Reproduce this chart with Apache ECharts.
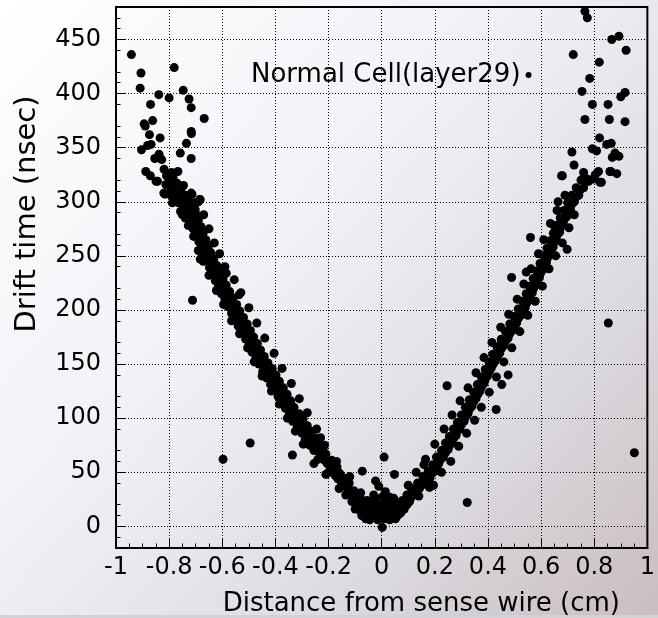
<!DOCTYPE html>
<html>
<head>
<meta charset="utf-8">
<script src="https://cdn.jsdelivr.net/npm/echarts@6/dist/echarts.min.js"></script>
<style>
html, body { margin: 0; padding: 0; }
#chart { width: 658px; height: 618px; }
</style>
</head>
<body>
<div id="chart"></div>
<script>
// x: distance from sense wire (cm), y: drift time (nsec)
var seriesName = 'Normal Cell(layer29)';
var xTitle = 'Distance from sense wire (cm)';
var yTitle = 'Drift time (nsec)';
var yTicks = [0, 50, 100, 150, 200, 250, 300, 350, 400, 450];

// dense band, negative side
var leftBranch = [
  [-0.06,9],[-0.045,6],[-0.07,13],[-0.052,16],[-0.083,15],[-0.075,20],[-0.095,18],[-0.088,24],[-0.1,27],[-0.112,23],
  [-0.118,30],[-0.105,33],[-0.128,34],[-0.135,29],[-0.14,38],[-0.122,40],[-0.152,41],[-0.145,45],[-0.165,44],[-0.158,49],
  [-0.175,47],[-0.182,52],[-0.168,55],[-0.192,55],[-0.2,50],[-0.205,58],[-0.188,61],[-0.215,61],[-0.225,64],[-0.21,67],
  [-0.232,68],[-0.24,62],[-0.222,72],[-0.245,73],[-0.255,70],[-0.238,77],[-0.26,78],[-0.27,75],[-0.252,82],[-0.275,84],
  [-0.288,80],[-0.268,88],[-0.29,89],[-0.3,86],[-0.28,93],[-0.305,94],[-0.318,91],[-0.296,99],[-0.322,100],[-0.335,97],
  [-0.31,104],[-0.338,106],[-0.348,103],[-0.33,110],[-0.352,111],[-0.362,109],[-0.342,116],[-0.366,117],[-0.375,114],[-0.356,122],
  [-0.38,123],[-0.39,120],[-0.37,128],[-0.394,129],[-0.402,126],[-0.385,134],[-0.41,135],[-0.418,131],[-0.398,140],[-0.425,141],
  [-0.432,137],[-0.412,146],[-0.438,147],[-0.448,143],[-0.428,151],[-0.452,153],[-0.462,150],[-0.442,157],[-0.466,159],[-0.474,155],
  [-0.456,163],[-0.478,165],[-0.488,161],[-0.468,169],[-0.492,171],[-0.5,167],[-0.482,175],[-0.505,177],[-0.512,173],[-0.494,181],
  [-0.518,183],[-0.526,179],[-0.506,187],[-0.532,189],[-0.54,185],[-0.52,193],[-0.544,195],[-0.552,191],[-0.534,199],[-0.556,201],
  [-0.565,197],[-0.546,205],[-0.57,207],[-0.578,203],[-0.56,211],[-0.582,213],[-0.59,210],[-0.572,217],[-0.594,219],[-0.603,215],
  [-0.585,223],[-0.607,225],[-0.615,221],[-0.597,229],[-0.62,231],[-0.626,227],[-0.61,235],[-0.63,237],[-0.638,233],[-0.62,241],
  [-0.64,243],[-0.648,239],[-0.632,247],[-0.65,249],[-0.658,245],[-0.643,253],[-0.66,255],[-0.668,251],[-0.652,259],[-0.67,261],
  [-0.677,257],[-0.662,265],[-0.68,267],[-0.688,263],[-0.672,271],[-0.69,273],[-0.698,269],[-0.68,277],[-0.7,279],[-0.71,275],
  [-0.69,283],[-0.712,285],[-0.722,281],[-0.7,289],[-0.725,291],[-0.735,287],[-0.712,295],[-0.738,297],[-0.748,293],[-0.725,301],
  [-0.752,303],[-0.765,299],[-0.74,306],[-0.768,309],[-0.78,305],[-0.755,312],[-0.79,313],[-0.8,308],[-0.77,317],[-0.812,316],
  [-0.785,322],
  // wider spread on both edges of the band
  [-0.16,35],[-0.12,46],[-0.21,48],[-0.17,60],[-0.255,58],[-0.215,75],[-0.295,76],[-0.245,90],[-0.325,88],[-0.28,105],
  [-0.355,100],[-0.31,118],[-0.385,113],[-0.34,132],[-0.415,125],[-0.375,146],[-0.45,139],[-0.405,160],[-0.48,152],[-0.44,174],
  [-0.505,165],[-0.47,188],[-0.535,178],[-0.5,202],[-0.565,190],[-0.53,216],[-0.595,205],[-0.555,228],[-0.622,218],[-0.59,240],
  [-0.65,232],[-0.61,252],[-0.672,245],[-0.63,262],[-0.69,255],[-0.65,275],[-0.708,268],[-0.67,288],[-0.728,278],[-0.69,300],
  [-0.75,288]
];

// dense band, positive side
var rightBranch = [
  [0.07,12],[0.085,16],[0.06,18],[0.095,20],[0.078,24],[0.105,23],[0.112,27],[0.095,29],[0.122,30],[0.13,33],
  [0.112,35],[0.142,35],[0.15,38],[0.135,40],[0.162,40],[0.17,43],[0.155,46],[0.182,45],[0.19,49],[0.175,51],
  [0.2,51],[0.208,55],[0.192,57],[0.215,58],[0.222,62],[0.206,64],[0.232,64],[0.24,68],[0.225,70],[0.25,71],
  [0.256,75],[0.24,77],[0.265,77],[0.27,81],[0.255,83],[0.28,84],[0.285,88],[0.27,90],[0.295,90],[0.3,94],
  [0.285,96],[0.31,97],[0.316,101],[0.3,103],[0.325,104],[0.33,108],[0.315,110],[0.34,111],[0.346,115],[0.33,117],
  [0.355,118],[0.362,122],[0.346,124],[0.37,125],[0.376,129],[0.36,131],[0.385,132],[0.39,136],[0.375,138],[0.398,139],
  [0.405,143],[0.39,145],[0.412,146],[0.42,150],[0.404,152],[0.428,153],[0.435,157],[0.418,159],[0.444,160],[0.45,164],
  [0.434,166],[0.46,167],[0.466,171],[0.45,173],[0.476,174],[0.482,178],[0.466,180],[0.492,181],[0.498,185],[0.482,187],
  [0.508,188],[0.514,192],[0.498,194],[0.524,195],[0.53,199],[0.514,201],[0.54,202],[0.545,206],[0.53,208],[0.554,209],
  [0.558,213],[0.544,215],[0.567,216],[0.572,220],[0.556,222],[0.58,223],[0.585,227],[0.57,229],[0.594,230],[0.598,234],
  [0.584,236],[0.607,237],[0.61,241],[0.596,243],[0.62,244],[0.624,248],[0.61,250],[0.633,251],[0.636,255],[0.622,257],
  [0.645,258],[0.648,262],[0.634,264],[0.657,265],[0.66,269],[0.646,271],[0.67,272],[0.673,276],[0.658,278],[0.683,279],
  [0.686,283],[0.672,285],[0.696,286],[0.7,290],[0.686,292],[0.71,293],[0.714,297],[0.7,299],[0.725,300],[0.73,304],
  [0.716,306],[0.742,306],[0.748,311],[0.732,313],[0.76,313],[0.765,318],[0.75,320],
  // wider spread on both edges of the band
  [0.1,38],[0.14,28],[0.13,50],[0.18,36],[0.165,62],[0.225,50],[0.2,76],[0.26,60],[0.235,90],[0.29,74],
  [0.265,103],[0.32,86],[0.295,116],[0.35,98],[0.325,128],[0.375,110],[0.355,142],[0.405,124],[0.385,156],[0.432,138],
  [0.415,170],[0.46,152],[0.448,184],[0.49,165],[0.478,196],[0.52,180],[0.51,210],[0.55,195],[0.535,224],[0.578,208],
  [0.562,238],[0.605,222],[0.59,252],[0.63,238],[0.61,265],[0.655,250],[0.635,280],[0.68,262],[0.66,292],[0.705,276],
  [0.69,306],[0.725,288]
];

// blob right at the wire
var wireCore = [
  [-0.09,22],[-0.08,26],[-0.065,20],[-0.055,24],[-0.04,18],[-0.03,22],[-0.02,15],[-0.01,20],[0,17],[0.012,22],
  [0.025,16],[0.035,21],[0.045,14],[0.055,19],[0.065,12],[-0.075,10],[-0.06,7],[-0.035,8],[-0.015,6],[-0.005,10],
  [0.008,7],[0.02,9],[0.03,6],[0.04,8],[0.052,7],[0.06,10],[0.075,14],[0.085,18],[-0.025,12],[0.015,13],
  [-0.045,14],[0.002,-1],[0.005,28],[-0.03,29],[0.03,27],[-0.02,26],[0.045,26],[0.07,22],[0.1,22],[-0.1,16]
];

// scattered hits off the band
var outliers = [
  [-0.942,436],[-0.906,419],[-0.909,405],[-0.781,424],[-0.839,399],[-0.8,396],[-0.747,403],[-0.725,395],[-0.717,387],[-0.87,390],
  [-0.668,377],[-0.894,372],[-0.89,370],[-0.862,375],[-0.874,362],[-0.834,359],[-0.717,365],[-0.716,363],[-0.735,354],[-0.881,352],
  [-0.868,353],[-0.904,348],[-0.838,344],[-0.854,340],[-0.828,339],[-0.758,345],[-0.717,340],[-0.888,328],[-0.871,324],[-0.844,319],
  [-0.819,330],[-0.81,324],[-0.791,327],[-0.767,328],[-0.746,315],[-0.816,307],[-0.791,305],[-0.779,302],[-0.717,308],[-0.748,302],
  [-0.686,302],[-0.705,299],[-0.849,319],[-0.8,318],[-0.82,308],[-0.783,305],[-0.757,307],[-0.714,307],[-0.683,302],[-0.788,299],
  [-0.757,291],[-0.739,296],[-0.702,293],[-0.739,285],[-0.702,284],[-0.72,278],[-0.696,276],
  [-0.683,247],[-0.585,234],[-0.537,214],[-0.712,209],
  [-0.597,62],[-0.495,77],[-0.336,66],[-0.23,82],
  [-0.073,51],[-0.023,42],[-0.011,37],[0.009,64],[0.048,48],[0.014,32],[-0.079,31],
  [0.159,57],[0.195,38],[0.322,22],[0.246,130],[0.431,108],[0.452,131],[0.476,140],[0.452,171],[0.489,230],
  [0.544,235],[0.6,241],[0.56,267],[0.698,256],[0.649,278],[0.664,300],[0.68,324],[0.853,188],[0.951,68],
  [0.76,327],[0.779,319],[0.804,325],[0.822,318],[0.859,328],[0.765,476],[0.774,470],[0.866,450],[0.893,453],[0.92,440],
  [0.721,436],[0.819,429],[0.783,414],[0.754,402],[0.9,397],[0.916,401],[0.793,390],[0.852,390],[0.765,376],[0.857,376],
  [0.916,374],[0.82,359],[0.847,353],[0.864,354],[0.716,346],[0.793,349],[0.809,347],[0.868,341],[0.878,345],[0.893,342],
  [0.724,334],[0.677,324],[0.816,328],[0.862,328],[0.885,326],[0.773,321],[0.797,321],[0.827,318]
];

var allHits = leftBranch.concat(wireCore, rightBranch, outliers);

var font = 'DejaVu Sans';
var dotted = { color: '#000', type: [1, 2], width: 1 };

// horizontal grid lines at the labelled drift times
var hLines = yTicks.map(function (v) { return { yAxis: v }; });

var myChart = echarts.init(document.getElementById('chart'));
myChart.setOption({
  animation: false,
  backgroundColor: {
    type: 'linear', x: 0, y: 0, x2: 1, y2: 1,
    colorStops: [
      { offset: 0, color: '#ffffff' },
      { offset: 0.4, color: '#f1f2f7' },
      { offset: 0.72, color: '#dddbe2' },
      { offset: 1, color: '#c9bdbf' }
    ]
  },
  textStyle: { fontFamily: font },
  grid: {
    left: 116, right: 2, top: 7, bottom: 70,
    show: true, borderColor: '#000', borderWidth: 2, backgroundColor: 'transparent'
  },
  legend: {
    data: [seriesName],
    left: 251, top: 62,
    padding: 0,
    align: 'right',
    icon: 'circle',
    itemWidth: 6, itemHeight: 6,
    textStyle: { fontSize: 26, color: '#000', fontFamily: font }
  },
  xAxis: {
    type: 'value', min: -1, max: 1, interval: 0.2,
    axisLine: { show: true, onZero: false, lineStyle: { color: '#000', width: 2 } },
    axisTick: { show: true, inside: true, length: 9, lineStyle: { color: '#000' } },
    minorTick: { show: true, splitNumber: 4, length: 4.5, lineStyle: { color: '#000' } },
    splitLine: { show: true, lineStyle: dotted },
    axisLabel: {
      color: '#000', fontSize: 24, margin: 8, fontFamily: font,
      formatter: function (v) { return String(+v.toFixed(1)); }
    }
  },
  yAxis: {
    type: 'value', min: -20, max: 480, interval: 50,
    axisLine: { show: true, onZero: false, lineStyle: { color: '#000', width: 2 } },
    axisTick: { show: true, inside: true, length: 9, customValues: yTicks, lineStyle: { color: '#000' } },
    minorTick: { show: true, splitNumber: 5, length: 4.5, lineStyle: { color: '#000' } },
    splitLine: { show: false },
    axisLabel: {
      color: '#000', fontSize: 24, margin: 15, fontFamily: font,
      customValues: yTicks
    }
  },
  graphic: [
    {
      type: 'text', x: 620, y: 604,
      style: { text: xTitle, fontSize: 26, fontFamily: font, fill: '#000', align: 'right', verticalAlign: 'middle' }
    },
    {
      type: 'text', x: 27, y: 214, rotation: Math.PI / 2,
      style: { text: yTitle, fontSize: 29, fontFamily: font, fill: '#000', align: 'center', verticalAlign: 'middle' }
    },
    {
      type: 'rect', shape: { x: 0, y: 615, width: 658, height: 3 },
      style: { fill: '#d2d2d6' }, silent: true
    }
  ],
  series: [
    {
      name: seriesName,
      type: 'scatter',
      symbol: 'circle',
      symbolSize: 9,
      itemStyle: { color: '#000', opacity: 1 },
      data: allHits,
      markLine: {
        silent: true,
        symbol: 'none',
        label: { show: false },
        lineStyle: dotted,
        data: hLines
      }
    }
  ]
});
</script>
</body>
</html>
